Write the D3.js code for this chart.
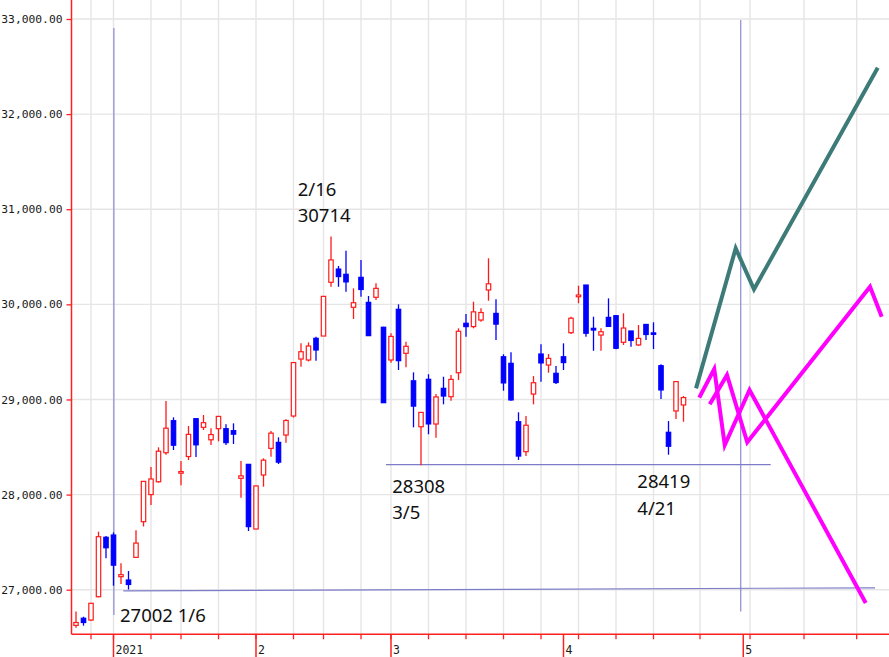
<!DOCTYPE html>
<html><head><meta charset="utf-8">
<script src="https://cdn.jsdelivr.net/npm/d3@7/dist/d3.min.js"></script>
<style>html,body{margin:0;padding:0;background:#fff;overflow:hidden}</style>
</head><body>
<svg id="chart" width="889" height="657"></svg>
<script>
// ---- data (trading-day index 0 = 2020-12-24) ----
const dates = ["12/24","12/25","12/28","12/29","12/30","1/4","1/5","1/6","1/7","1/8","1/12","1/13","1/14","1/15","1/18","1/19","1/20","1/21","1/22","1/25","1/26","1/27","1/28","1/29","2/1","2/2","2/3","2/4","2/5","2/8","2/9","2/10","2/12","2/15","2/16","2/17","2/18","2/19","2/22","2/24","2/25","2/26","3/1","3/2","3/3","3/4","3/5","3/8","3/9","3/10","3/11","3/12","3/15","3/16","3/17","3/18","3/19","3/22","3/23","3/24","3/25","3/26","3/29","3/30","3/31","4/1","4/2","4/5","4/6","4/7","4/8","4/9","4/12","4/13","4/14","4/15","4/16","4/19","4/20","4/21","4/22","4/23"];
const open  = [26625,26700,26681,26926,27551,27575,27137,27102,27340,27715,28000,28135,28440,28777,28225,28400,28798,28707,28576,28693,28693,28672,28171,28318,27638,28206,28486,28549,28626,28826,29425,29415,29643,29667,30232,30371,30316,29969,30284,30021,30074,29759,29415,29948,29485,29196,28713,29212,28742,29117,29029,29281,29801,29766,29835,30151,29905,29449,29380,28766,28451,29057,29478,29362,29275,29449,29702,30080,30203,29748,29677,29863,29881,29601,29720,29573,29789,29700,29355,28655,28879,28942];
const high  = [26770,26716,26860,27610,27565,27602,27278,27196,27624,28143,28290,28497,28985,28812,28353,28721,28801,28837,28697,28826,28739,28749,28353,28318,28093,28381,28668,28602,28791,29394,29590,29600,29660,30088,30714,30403,30563,30168,30465,30088,30221,29765,29695,30000,29607,29285,28865,29265,29057,29239,29257,29748,29898,30028,29958,30484,30053,29475,29496,28865,28826,29246,29580,29478,29352,29590,29870,30196,30203,29870,29748,30063,29881,29906,29720,29783,29789,29811,29370,28773,29194,29036];
const low   = [26600,26622,26670,26920,27330,27042,27060,27002,27337,27665,27890,28125,28420,28469,28098,28363,28395,28679,28521,28560,28521,28532,27967,27617,27638,28083,28398,28321,28545,28810,29344,29400,29407,29667,30185,30185,30133,29846,30080,29667,30046,28966,29386,29310,29338,28707,28308,28634,28598,28949,28987,29205,29660,29748,29818,30038,29625,29092,28987,28364,28406,28949,29187,29281,29163,29310,29688,30011,29660,29512,29512,29765,29527,29573,29555,29562,29625,29530,29005,28419,28795,28766];
const close = [26655,26655,26857,27557,27441,27258,27158,27055,27490,28139,28164,28456,28698,28519,28242,28633,28523,28756,28631,28822,28546,28635,28197,27663,28091,28362,28646,28341,28779,29388,29502,29562,29520,30084,30467,30292,30236,30017,30156,29671,30168,28966,29663,29408,29559,28930,28864,28743,29027,29036,29211,29717,29766,29921,29914,30216,29792,29174,28995,28405,28729,29176,29384,29432,29178,29388,29854,30098,29696,29730,29712,29768,29538,29751,29620,29642,29683,29685,29100,28508,29188,29020];

const yTicks = [27000,28000,29000,30000,31000,32000,33000];
const weekIdx = [2,5,10,14,19,24,29,33,38,42,47,52,57,62,67,72,77,83.2,89.87,97.07,104.09];
const monthIdx = [5,24,42,65,88.97];
const monthLabels = ["2021","2","3","4","5"];

// projection scenarios [index, price]
const tealPath = [[82.67,29117],[87.96,30589],[90.4,30158],[106.9,32488]];
const magentaPathA = [[83.1,29020],[85.1,29320],[86.5,28521],[89.8,29100],[105.3,26860]];
const magentaPathB = [[84.5,28949],[86.8,29257],[89.5,28550],[105.87,30185],[107.43,29870]];

// support / marker lines
const hLines = [ {i0:6.31, v0:26988, i1:106.53, v1:27020}, {i0:41.33, v0:28316, i1:92.63, v1:28316} ];
const vLines = [ {i:5.05, v0:32905, v1:26735}, {i:88.63, v0:32990, v1:26770} ];

const notes = [
  {i:5.87,  v:26664, lines:["27002 1/6"]},
  {i:29.56, v:31139, lines:["2/16","30714"]},
  {i:42.17, v:28020, lines:["28308","3/5"]},
  {i:74.84, v:28066, lines:["28419","4/21"]}
];

// ---- drawing ----
const W = 889, H = 657;
const left = 71.5, bottom = 634.3;
const svg = d3.select("#chart");

const x = d3.scaleLinear().domain([0, 81]).range([76, 683.5]);
const y = d3.scaleLinear().domain([27000, 33000]).range([589.7, 19]);

// grid
const grid = svg.append("g");
grid.selectAll("line.h").data(yTicks).join("line")
  .attr("x1", left).attr("x2", W)
  .attr("y1", d => y(d)).attr("y2", d => y(d))
  .attr("stroke", "#e5e5e5").attr("stroke-width", 1.4);
grid.selectAll("line.v").data(weekIdx).join("line")
  .attr("x1", d => x(d)).attr("x2", d => x(d))
  .attr("y1", 0).attr("y2", bottom)
  .attr("stroke", "#e5e5e5").attr("stroke-width", 1.4);

// y axis labels
const yAxis = d3.axisLeft(y).tickValues(yTicks).tickFormat(d3.format(",.2f")).tickSize(5).tickPadding(4);
const gy = svg.append("g").attr("transform", `translate(${left},0)`).call(yAxis);
gy.select(".domain").remove();
gy.selectAll(".tick line").attr("stroke", "#ff2020").attr("stroke-width", 1.3);
gy.selectAll(".tick text").attr("fill", "#1a1a1a").style("font-family", "'DejaVu Sans Mono', monospace").style("font-size", "11.3px");

// x axis: weekly short ticks, monthly long ticks
const gx = svg.append("g");
gx.selectAll("line.wt").data(weekIdx).join("line")
  .attr("x1", d => x(d)).attr("x2", d => x(d))
  .attr("y1", bottom).attr("y2", bottom + 5)
  .attr("stroke", "#ff2020").attr("stroke-width", 1.3);
gx.selectAll("line.mt").data(monthIdx).join("line")
  .attr("x1", d => x(d)).attr("x2", d => x(d))
  .attr("y1", bottom).attr("y2", H)
  .attr("stroke", "#ff2020").attr("stroke-width", 1.5);
gx.selectAll("text").data(monthIdx).join("text")
  .attr("x", d => x(d) + 2).attr("y", 653.5)
  .attr("fill", "#1a1a1a")
  .style("font-family", "'DejaVu Sans Mono', monospace").style("font-size", "11.5px")
  .text((d, k) => monthLabels[k]);

// axis lines
svg.append("line").attr("x1", left).attr("x2", left).attr("y1", 0).attr("y2", bottom)
  .attr("stroke", "#ff2020").attr("stroke-width", 1.5);
svg.append("line").attr("x1", left).attr("x2", W).attr("y1", bottom).attr("y2", bottom)
  .attr("stroke", "#ff2020").attr("stroke-width", 1.5);

// marker lines
svg.append("g").selectAll("line").data(vLines).join("line")
  .attr("x1", d => x(d.i)).attr("x2", d => x(d.i))
  .attr("y1", d => y(d.v0)).attr("y2", d => y(d.v1))
  .attr("stroke", "#8a8ad2").attr("stroke-width", 1.2);
svg.append("g").selectAll("line").data(hLines).join("line")
  .attr("x1", d => x(d.i0)).attr("x2", d => x(d.i1))
  .attr("y1", d => y(d.v0)).attr("y2", d => y(d.v1))
  .attr("stroke", "#7c7cc8").attr("stroke-width", 1.2);

// candles
const candles = dates.map((d, i) => ({i, o: open[i], h: high[i], l: low[i], c: close[i]}));
const cg = svg.append("g").selectAll("g").data(candles).join("g");
const up = d => d.c >= d.o;
const col = d => up(d) ? "#ff1a1a" : "#0000ff";
cg.append("line")
  .attr("x1", d => x(d.i)).attr("x2", d => x(d.i))
  .attr("y1", d => y(d.h)).attr("y2", d => y(d.l))
  .attr("stroke", col).attr("stroke-width", 1.3);
const bw = 4.4;
cg.append("rect")
  .attr("x", d => x(d.i) - bw / 2)
  .attr("width", bw)
  .attr("y", d => y(Math.max(d.o, d.c)))
  .attr("height", d => Math.max(0.8, Math.abs(y(d.o) - y(d.c))))
  .attr("fill", d => up(d) ? "#fff" : "#0000ff")
  .attr("stroke", col).attr("stroke-width", 1.2);

// projections
const line = d3.line().x(d => x(d[0])).y(d => y(d[1]));
svg.append("path").datum(tealPath).attr("d", line)
  .attr("fill", "none").attr("stroke", "#3c7b78").attr("stroke-width", 4).attr("stroke-linejoin", "miter");
svg.append("path").datum(magentaPathA).attr("d", line)
  .attr("fill", "none").attr("stroke", "#ff00ff").attr("stroke-width", 4).attr("stroke-linejoin", "miter");
svg.append("path").datum(magentaPathB).attr("d", line)
  .attr("fill", "none").attr("stroke", "#ff00ff").attr("stroke-width", 4).attr("stroke-linejoin", "miter");

// annotations
const ng = svg.append("g").selectAll("text").data(notes).join("text")
  .attr("x", d => x(d.i)).attr("y", d => y(d.v))
  .attr("fill", "#111")
  .style("font-family", "'Noto Sans', sans-serif").style("font-size", "18.5px");
ng.selectAll("tspan").data(d => d.lines.map((t, k) => ({t, k, d}))).join("tspan")
  .attr("x", e => x(e.d.i)).attr("dy", e => e.k === 0 ? 0 : 26.3)
  .text(e => e.t);
</script>
</body></html>
